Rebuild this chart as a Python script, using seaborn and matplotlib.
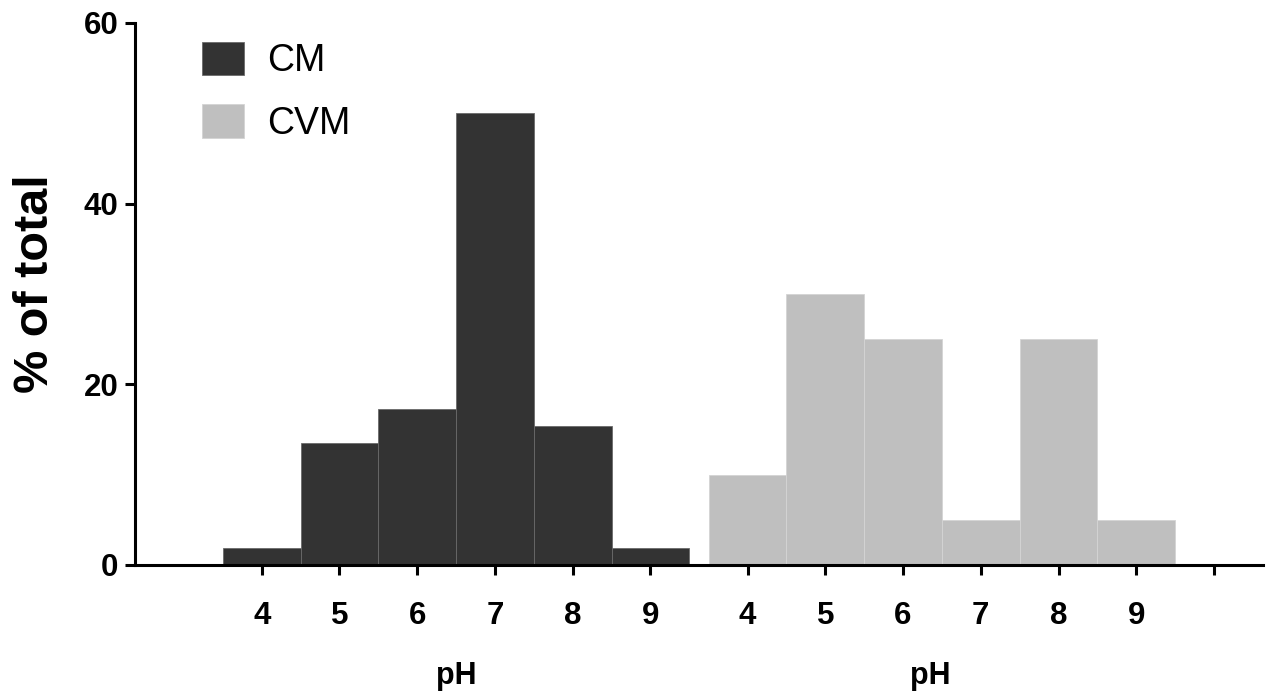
import pandas as pd
import matplotlib
matplotlib.use("Agg")
import matplotlib.pyplot as plt
import seaborn as sns

# data (% of total per pH class)
ph_labels = ["4", "5", "6", "7", "8", "9"]
cm_pct = [1.92, 13.46, 17.31, 50.0, 15.38, 1.92]
cvm_pct = [10.0, 30.0, 25.0, 5.0, 25.0, 5.0]
groups = ["CM", "CVM"]
colors = {"CM": "#333333", "CVM": "#bfbfbf"}

# two blocks of bars on one numeric axis, second block shifted right
offset = 6.25
cm_pos = list(range(len(ph_labels)))
cvm_pos = [p + offset for p in cm_pos]

df = pd.DataFrame({
    "pos": cm_pos + cvm_pos,
    "pct": cm_pct + cvm_pct,
    "group": ["CM"] * len(cm_pct) + ["CVM"] * len(cvm_pct),
})

sns.set_style("ticks")
plt.rcParams["font.family"] = ["Liberation Sans", "DejaVu Sans"]
plt.rcParams["text.color"] = "black"
plt.rcParams["axes.labelcolor"] = "black"
plt.rcParams["xtick.color"] = "black"
plt.rcParams["ytick.color"] = "black"
plt.rcParams["axes.edgecolor"] = "black"

fig = plt.figure(figsize=(12.71, 6.94), dpi=100)
ax = fig.add_axes([0.1062, 0.1859, 0.8875, 0.781])

sns.barplot(data=df, x="pos", y="pct", hue="group", palette=colors,
            native_scale=True, dodge=False, width=1.0, errorbar=None,
            linewidth=0.6, edgecolor="#6a6a6a", saturation=1, ax=ax)

# lighter outline on the light bars
for patch in ax.patches:
    if patch.get_facecolor()[0] > 0.5:
        patch.set_edgecolor("#d4d4d4")

ax.set_xlim(-1.63, 12.88)
ax.set_ylim(0, 60)
ax.set_yticks([0, 20, 40, 60])
ax.set_xticks(cm_pos + cvm_pos + [offset + 6])
ax.set_xticklabels(ph_labels + ph_labels + [""])

ax.tick_params(axis="both", width=2.2, length=7, labelsize=22.5)
ax.tick_params(axis="x", pad=19)
ax.tick_params(axis="y", pad=5)
for lab in ax.get_xticklabels() + ax.get_yticklabels():
    lab.set_fontweight("bold")

for side in ["top", "right"]:
    ax.spines[side].set_visible(False)
for side in ["left", "bottom"]:
    ax.spines[side].set_linewidth(2.2)

ax.set_xlabel("")
ax.set_ylabel("% of total", fontsize=35, fontweight="bold")
ax.yaxis.set_label_coords(-0.068, 0.52)

# pH label under each block
for x in [2.5, 8.6]:
    ax.text(x, -0.205, "pH", transform=ax.get_xaxis_transform(),
            ha="center", va="center", fontsize=22, fontweight="bold")

handles, labels = ax.get_legend_handles_labels()
ax.legend(handles, labels, loc="upper left", bbox_to_anchor=(0.1587, 0.94),
          bbox_transform=fig.transFigure, frameon=False, fontsize=27,
          borderpad=0, borderaxespad=0, handlelength=1.14, handleheight=1.0,
          handletextpad=0.6, labelspacing=0.66)

fig.savefig("out.png", dpi=100)
